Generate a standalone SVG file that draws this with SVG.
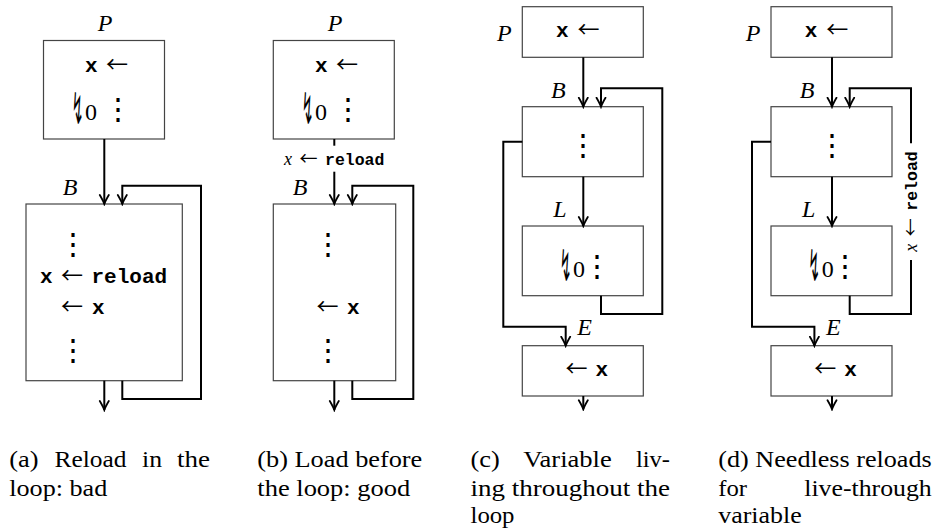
<svg xmlns="http://www.w3.org/2000/svg" width="935" height="529" viewBox="0 0 935 529">
<defs>
<style>
.box{fill:#fff;stroke:#444;stroke-width:1.2}
.edge{fill:none;stroke:#000;stroke-width:2;marker-end:url(#ah)}
.line{fill:none;stroke:#000;stroke-width:2}
.lbl{font-family:"Liberation Serif",serif;font-style:italic;font-size:24px;text-anchor:middle}
.tt{font-family:"Liberation Mono",monospace;font-size:21px;font-weight:bold}
.ar{font-family:"Noto Sans CJK JP",sans-serif;font-size:22px}
.rm{font-family:"Liberation Serif",serif;font-size:24px}
.zz{font-family:"DejaVu Sans",sans-serif;font-size:20px;text-anchor:middle}
.vd{font-family:"Noto Sans CJK JP",sans-serif;font-size:30px;text-anchor:middle}
.cap{font-family:"Liberation Serif",serif;font-size:24px}
.sl .mi{font-family:"Liberation Serif",serif;font-style:italic;font-size:18px}
.sl .ar{font-size:18px}
.sl .tt{font-size:16.5px}
</style>
<marker id="ah" markerUnits="userSpaceOnUse" viewBox="-10 -6 12 12" refX="0" refY="0" markerWidth="12" markerHeight="12" orient="auto">
<path d="M-9,-4.5 Q-3,-1 0,0 Q-3,1 -9,4.5" fill="none" stroke="#000" stroke-width="1.8" stroke-linecap="round"/>
</marker>
</defs>

<!-- Panel (a) -->
<g id="a-P">
<text class="lbl" x="105" y="31">P</text>
<rect class="box" x="43.5" y="40.5" width="121" height="98.5"/>
<text class="tt" x="85" y="72">x</text><text class="ar" x="106" y="72">←</text>
<text class="zz" transform="translate(77.5,124) scale(0.7,2.2)">↯</text><text class="rm" x="85" y="120">0</text>
<text class="vd" x="118" y="118.5">⋮</text>
</g>
<g id="a-B">
<text class="lbl" x="70" y="195">B</text>
<rect class="box" x="26" y="204" width="156.3" height="176.7"/>
<text class="vd" x="72.7" y="254">⋮</text>
<text class="tt" x="40" y="283">x</text><text class="ar" x="61" y="283">←</text><text class="tt" x="91.5" y="283">reload</text>
<text class="ar" x="61" y="314">←</text><text class="tt" x="92" y="314">x</text>
<text class="vd" x="72.7" y="360">⋮</text>
</g>

<!-- Panel (b) -->
<g id="b-P">
<text class="lbl" x="335" y="31">P</text>
<rect class="box" x="273.3" y="40.5" width="121" height="98.5"/>
<text class="tt" x="315" y="72">x</text><text class="ar" x="336" y="72">←</text>
<text class="zz" transform="translate(307.5,124) scale(0.7,2.2)">↯</text><text class="rm" x="315" y="120">0</text>
<text class="vd" x="348" y="118.5">⋮</text>
</g>
<g id="b-B">
<text class="lbl" x="300" y="195">B</text>
<rect class="box" x="273.3" y="204" width="122.4" height="176.7"/>
<text class="vd" x="327.7" y="254">⋮</text>
<text class="ar" x="316.5" y="314">←</text><text class="tt" x="347" y="314">x</text>
<text class="vd" x="327.7" y="360">⋮</text>
</g>

<!-- Panel (c) -->
<g id="c-P">
<text class="lbl" x="504.3" y="40.7">P</text>
<rect class="box" x="522.3" y="6.7" width="121" height="50.6"/>
<text class="tt" x="556" y="37.3">x</text><text class="ar" x="577.5" y="37.3">←</text>
</g>
<g id="c-B">
<text class="lbl" x="558.3" y="98.3">B</text>
<rect class="box" x="522.3" y="106.7" width="121" height="70"/>
<text class="vd" x="583.3" y="155">⋮</text>
</g>
<g id="c-L">
<text class="lbl" x="560" y="216.7">L</text>
<rect class="box" x="522.3" y="226" width="121" height="69.7"/>
<text class="zz" transform="translate(565.5,281.3) scale(0.7,2.2)">↯</text><text class="rm" x="573" y="277.3">0</text>
<text class="vd" x="596.7" y="275.5">⋮</text>
</g>
<g id="c-E">
<text class="lbl" x="584.7" y="335">E</text>
<rect class="box" x="522.3" y="345.7" width="121" height="50.3"/>
<text class="ar" x="565.5" y="376">←</text><text class="tt" x="595.5" y="376">x</text>
</g>

<!-- Panel (d) -->
<g id="d-P">
<text class="lbl" x="753" y="40.7">P</text>
<rect class="box" x="771" y="6.7" width="121" height="50.6"/>
<text class="tt" x="804.7" y="37.3">x</text><text class="ar" x="826.2" y="37.3">←</text>
</g>
<g id="d-B">
<text class="lbl" x="807" y="98.3">B</text>
<rect class="box" x="771" y="106.7" width="121" height="70"/>
<text class="vd" x="832" y="155">⋮</text>
</g>
<g id="d-L">
<text class="lbl" x="808.7" y="216.7">L</text>
<rect class="box" x="771" y="226" width="121" height="69.7"/>
<text class="zz" transform="translate(814.2,281.3) scale(0.7,2.2)">↯</text><text class="rm" x="821.7" y="277.3">0</text>
<text class="vd" x="845.4" y="275.5">⋮</text>
</g>
<g id="d-E">
<text class="lbl" x="833.4" y="335">E</text>
<rect class="box" x="771" y="345.7" width="121" height="50.3"/>
<text class="ar" x="814.2" y="376">←</text><text class="tt" x="844.2" y="376">x</text>
</g>

<!-- Connectors -->
<g id="connectors">
<path class="edge" d="M104.3,139 V204"/>
<path class="edge" d="M122.3,380.7 V399 H201 V185.7 H122.3 V204"/>
<path class="edge" d="M104.3,380.7 V410"/>

<path class="line" d="M334.3,139 V145.7"/>
<path class="edge" d="M334.3,171.7 V204"/>
<path class="edge" d="M352.3,380.7 V399 H413.3 V185.7 H352.3 V204"/>
<path class="edge" d="M334.3,380.7 V410"/>
<text class="sl" y="165"><tspan class="mi" x="284">x</tspan><tspan class="ar" x="299.5">←</tspan><tspan class="tt" x="325">reload</tspan></text>

<path class="edge" d="M583.3,57.3 V106.7"/>
<path class="edge" d="M583.3,176.7 V226"/>
<path class="edge" d="M601,295.7 V314 H662.3 V88.3 H601 V106.7"/>
<path class="edge" d="M522.3,141.7 H503.3 V326.7 H565.7 V345.7"/>
<path class="edge" d="M583.3,396 V409.3"/>

<path class="edge" d="M832,57.3 V106.7"/>
<path class="edge" d="M832,176.7 V226"/>
<path class="line" d="M849.7,295.7 V314 H911 V260"/>
<path class="edge" d="M911,143.3 V88.3 H849.7 V106.7"/>
<path class="edge" d="M771,141.7 H752 V326.7 H814.4 V345.7"/>
<path class="edge" d="M832,396 V409.3"/>
<text class="sl" transform="translate(911.5,201.7) rotate(-90)" y="5.5"><tspan class="mi" x="-50">x</tspan><tspan class="ar" x="-34.5">←</tspan><tspan class="tt" x="-9">reload</tspan></text>
</g>

<!-- Captions -->
<g id="captions" class="cap">
<text y="466.5"><tspan x="9.3" textLength="29.3" lengthAdjust="spacingAndGlyphs">(a)</tspan><tspan x="54.5" textLength="72" lengthAdjust="spacingAndGlyphs">Reload</tspan><tspan x="142" textLength="20" lengthAdjust="spacingAndGlyphs">in</tspan><tspan x="177" textLength="33" lengthAdjust="spacingAndGlyphs">the</tspan></text>
<text x="9.3" y="495.5" textLength="98" lengthAdjust="spacingAndGlyphs">loop: bad</text>
<text x="257.3" y="466.5" textLength="165" lengthAdjust="spacingAndGlyphs">(b) Load before</text>
<text x="257.3" y="495.5" textLength="153" lengthAdjust="spacingAndGlyphs">the loop: good</text>
<text y="466.5"><tspan x="470.5" textLength="29.3" lengthAdjust="spacingAndGlyphs">(c)</tspan><tspan x="523.3" textLength="88.5" lengthAdjust="spacingAndGlyphs">Variable</tspan><tspan x="636" textLength="34" lengthAdjust="spacingAndGlyphs">liv-</tspan></text>
<text x="470.5" y="495.5" textLength="199.5" lengthAdjust="spacingAndGlyphs">ing throughout the</text>
<text x="470.5" y="523" textLength="44" lengthAdjust="spacingAndGlyphs">loop</text>
<text x="718.3" y="466.5" textLength="213.4" lengthAdjust="spacingAndGlyphs">(d) Needless reloads</text>
<text y="495.5"><tspan x="718.3" textLength="28.8" lengthAdjust="spacingAndGlyphs">for</tspan><tspan x="804.3" textLength="127.4" lengthAdjust="spacingAndGlyphs">live-through</tspan></text>
<text x="718.3" y="523" textLength="83.4" lengthAdjust="spacingAndGlyphs">variable</text>
</g>
</svg>
